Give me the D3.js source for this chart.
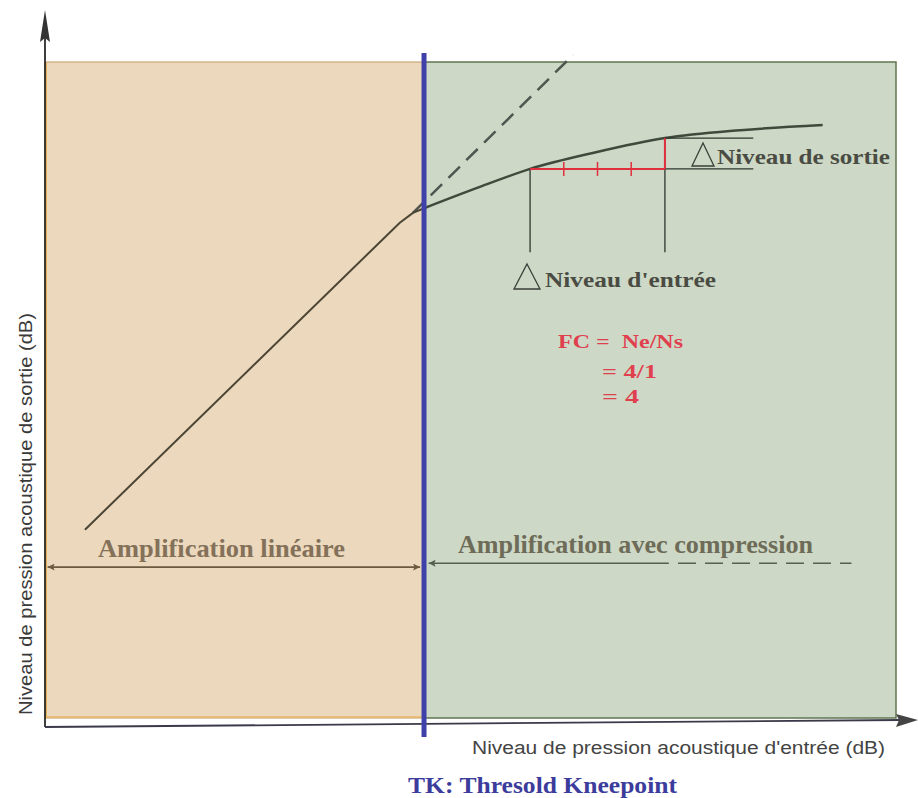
<!DOCTYPE html>
<html><head><meta charset="utf-8">
<script src="https://cdn.jsdelivr.net/npm/d3@7"></script>
<style>body{margin:0;background:#fff}svg{display:block}</style>
</head><body>
<svg id="c" width="918" height="798"></svg>
<script>
// ---- data (input dB, output dB; arbitrary schematic units) ----
const zoneLabels = ["Amplification linéaire", "Amplification avec compression"];
const kneeInput = 57.9;               // TK threshold kneepoint
const linearIn  = [6.1, 54.2, 56.2, 57.9];
const linearOut = [28.7, 75.5, 77.0, 77.7];
const compIn    = [57.9, 66, 74.1, 84, 94.7, 106.2, 118.8];
const compOut   = [77.7, 80.8, 83.7, 86.2, 88.4, 89.6, 90.4];
const dashIn    = [56.2, 80.7];
const dashOut   = [77.0, 101.1];
const deltaIn   = [74.1, 94.7];        // Δ niveau d'entrée (4 units)
const deltaOut  = [83.7, 88.4];        // Δ niveau de sortie (1 unit)
const ratioParts = 4;
const formula   = ["FC =  Ne/Ns", "= 4/1", "= 4"];
const xTitle = "Niveau de pression acoustique d'entrée (dB)";
const yTitle = "Niveau de pression acoustique de sortie (dB)";
const footnote = "TK: Thresold Kneepoint";

const svg = d3.select("#c");
const x = d3.scaleLinear().domain([0, 130]).range([45, 896]);
const y = d3.scaleLinear().domain([0, 100]).range([718, 62]);

const defs = svg.append("defs");
function marker(id, color, dir){
  defs.append("marker").attr("id", id).attr("viewBox","0 0 10 10")
    .attr("refX", dir>0?10:0).attr("refY",5).attr("markerWidth",16).attr("markerHeight",7)
    .attr("markerUnits","userSpaceOnUse").attr("orient","auto")
    .append("path").attr("d", dir>0 ? "M0,0L10,5L0,10L2,5z" : "M10,0L0,5L10,10L8,5z").attr("fill", color);
}
// zones
svg.append("rect").attr("x", x(0)).attr("y", y(100)).attr("width", x(kneeInput)-x(0)).attr("height", y(0)-y(100))
  .attr("fill","#ecd8bc").attr("stroke","#c9a878").attr("stroke-width",1.2);
svg.append("line").attr("x1",x(0)+1).attr("x2",x(0)+1).attr("y1",y(100)).attr("y2",y(0)).attr("stroke","#e2b25a").attr("stroke-width",2);
svg.append("line").attr("x1",x(0)).attr("x2",x(kneeInput)).attr("y1",y(0)-1).attr("y2",y(0)-1).attr("stroke","#e8b866").attr("stroke-width",1.5);
svg.append("rect").attr("x", x(kneeInput)).attr("y", y(100)).attr("width", x(130)-x(kneeInput)).attr("height", y(0)-y(100))
  .attr("fill","#cdd9c6").attr("stroke","#5f7552").attr("stroke-width",1.5);

// axes
svg.append("line").attr("x1",45).attr("x2",45).attr("y1",y(0)+9).attr("y2",28).attr("stroke","#2a2a2a").attr("stroke-width",1.8);
svg.append("path").attr("d",`M45,10L50,42L45,38L40,42Z`).attr("fill","#333");
svg.append("line").attr("x1",45).attr("x2",900).attr("y1",y(0)+9).attr("y2",y(0)+2).attr("stroke","#3a3a4a").attr("stroke-width",1.8);
svg.append("path").attr("d",`M918,720L896,714L899,720L896,727Z`).attr("fill","#444");

// zone arrows
marker("arrB","#6b5a40",1); marker("arrBl","#6b5a40",-1); marker("arrG","#556050",-1);
const arrowY = 23.0;
svg.append("line").attr("x1",x(0.4)).attr("x2",x(57.3)).attr("y1",y(arrowY)).attr("y2",y(arrowY))
  .attr("stroke","#6b5a40").attr("stroke-width",1.6)
  .attr("marker-start","url(#arrBl)").attr("marker-end","url(#arrB)");
svg.append("line").attr("x1",x(58.6)).attr("x2",x(95.3)).attr("y1",y(arrowY+0.6)).attr("y2",y(arrowY+0.6))
  .attr("stroke","#556050").attr("stroke-width",1.6).attr("marker-start","url(#arrG)");
svg.append("line").attr("x1",x(96.7)).attr("x2",x(123.2)).attr("y1",y(arrowY+0.6)).attr("y2",y(arrowY+0.6))
  .attr("stroke","#556050").attr("stroke-width",1.6).attr("stroke-dasharray","18,9");

function label(t, px, py, size, color, len, family, weight){
  return svg.append("text").attr("x",px).attr("y",py).text(t)
    .attr("font-family", family || "Liberation Serif").attr("font-weight", weight || "bold")
    .attr("font-size",size).attr("fill",color)
    .attr("textLength",len).attr("lengthAdjust","spacingAndGlyphs").style("white-space","pre");
}
label(zoneLabels[0], 98, 557, 25, "#84715a", 247);
label(zoneLabels[1], 458, 553, 25, "#6e6c58", 355);

// curves
const line = d3.line().x(d=>x(d[0])).y(d=>y(d[1]));
svg.append("path").attr("d", line(d3.zip(dashIn,dashOut))).attr("fill","none")
  .attr("stroke","#505550").attr("stroke-width",2.5).attr("stroke-dasharray","16,9");
svg.append("path").attr("d", line(d3.zip(linearIn,linearOut))).attr("fill","none")
  .attr("stroke","#4a4535").attr("stroke-width",2);
svg.append("path").attr("d", line.curve(d3.curveMonotoneX)(d3.zip(compIn,compOut))).attr("fill","none")
  .attr("stroke","#3e4a3c").attr("stroke-width",2.5);

// delta construction
const thin = "#2e342c";
svg.append("line").attr("x1",x(deltaIn[0])).attr("x2",x(deltaIn[0])).attr("y1",y(deltaOut[0])).attr("y2",y(71)).attr("stroke",thin).attr("stroke-width",1.3);
svg.append("line").attr("x1",x(deltaIn[1])).attr("x2",x(deltaIn[1])).attr("y1",y(deltaOut[1])).attr("y2",y(71)).attr("stroke",thin).attr("stroke-width",1.3);
svg.append("line").attr("x1",x(deltaIn[1])).attr("x2",x(108.2)).attr("y1",y(deltaOut[1])).attr("y2",y(deltaOut[1])).attr("stroke",thin).attr("stroke-width",1.3);
svg.append("line").attr("x1",x(deltaIn[1])).attr("x2",x(108.2)).attr("y1",y(deltaOut[0])).attr("y2",y(deltaOut[0])).attr("stroke",thin).attr("stroke-width",1.3);
const red = "#e0303e";
svg.append("line").attr("x1",x(deltaIn[0])).attr("x2",x(deltaIn[1])).attr("y1",y(deltaOut[0])).attr("y2",y(deltaOut[0])).attr("stroke",red).attr("stroke-width",2);
svg.append("line").attr("x1",x(deltaIn[1])).attr("x2",x(deltaIn[1])).attr("y1",y(deltaOut[0])).attr("y2",y(deltaOut[1])).attr("stroke",red).attr("stroke-width",2);
d3.range(1, ratioParts).forEach(i=>{
  const xv = deltaIn[0] + (deltaIn[1]-deltaIn[0])*i/ratioParts;
  svg.append("line").attr("x1",x(xv)).attr("x2",x(xv)).attr("y1",y(deltaOut[0])-7).attr("y2",y(deltaOut[0])+7).attr("stroke",red).attr("stroke-width",1.5);
});
function tri(cx, top, w, h){
  svg.append("path").attr("d",`M${cx},${top}L${cx+w/2},${top+h}L${cx-w/2},${top+h}Z`)
    .attr("fill","none").attr("stroke","#3a3e38").attr("stroke-width",1.3);
}
tri(703, 143, 22, 23);
label("Niveau de sortie", 717, 164, 21, "#4a4c44", 173);
tri(527, 264, 26, 25);
label("Niveau d'entrée", 545, 287, 21, "#4a4c44", 171);

// formula
const fx = [558, 602, 602], fy = [348, 378, 403], fl = [125, 55, 37];
formula.forEach((t,i)=>label(t, fx[i], fy[i], 19, "#e0404e", fl[i]));

// TK line
svg.append("line").attr("x1",x(kneeInput)).attr("x2",x(kneeInput)).attr("y1",53).attr("y2",737)
  .attr("stroke","#4040aa").attr("stroke-width",5);

// titles
label(xTitle, 472, 754, 17.5, "#444444", 413, "Liberation Sans", "normal");
svg.append("text").attr("transform","translate(32,514) rotate(-90)").attr("text-anchor","middle").text(yTitle)
  .attr("font-family","Liberation Sans").attr("font-size",17.5).attr("fill","#3a3a3a")
  .attr("textLength",402).attr("lengthAdjust","spacingAndGlyphs");
label(footnote, 408, 793, 24, "#3c3c9c", 269);
</script>
</body></html>
